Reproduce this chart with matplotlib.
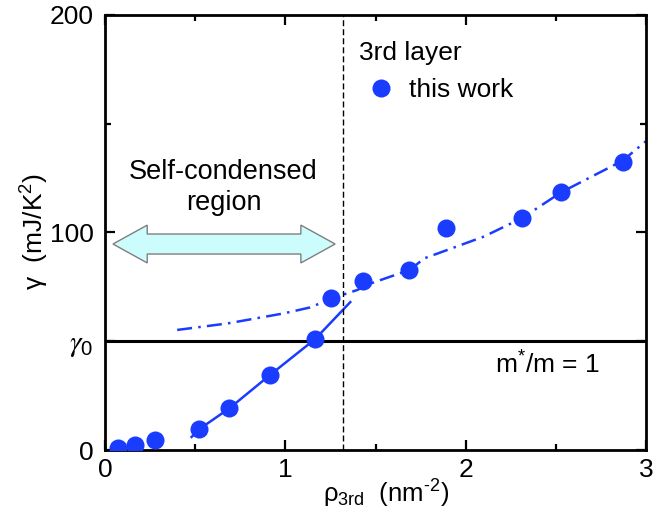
import matplotlib
matplotlib.use("Agg")
import matplotlib.pyplot as plt
from matplotlib.patches import Polygon

plt.rcParams['font.family'] = ['Liberation Sans', 'DejaVu Sans']
plt.rcParams['mathtext.fontset'] = 'custom'
plt.rcParams['mathtext.rm'] = 'Liberation Sans'
plt.rcParams['mathtext.it'] = 'Liberation Sans:italic'
plt.rcParams['mathtext.default'] = 'regular'

# measured gamma vs 3rd layer density
rho = [0.074, 0.166, 0.277, 0.521, 0.690, 0.915, 1.165, 1.253, 1.429, 1.688, 1.891, 2.311, 2.529, 2.871]
gamma = [1.1, 2.3, 4.6, 9.5, 19.2, 34.5, 51.0, 69.8, 77.9, 82.8, 102.2, 106.5, 118.8, 132.6]

# guide curves
solid_x = [0.48, 0.521, 0.690, 0.915, 1.165, 1.36]
solid_y = [6.0, 9.5, 19.2, 34.5, 51.0, 68.0]
dashdot_x = [0.40, 0.68, 0.99, 1.14, 1.25, 1.40, 1.45, 1.69, 1.77, 2.10, 2.31, 2.53, 2.87, 3.00]
dashdot_y = [55.2, 58.2, 62.8, 65.6, 69.5, 73.6, 75.9, 82.8, 88.1, 98.1, 106.5, 118.5, 133.0, 142.0]

gamma0 = 50
rho_c = 1.32
yticks = [0, gamma0, 100, 200]
yticklabels = ['0', r'$\mathit{\gamma}_{0}$', '100', '200']
xticks = [0, 1, 2, 3]

blue = '#1a3cff'

fig = plt.figure(figsize=(6.54, 5.22), dpi=100)
ax = fig.add_axes([0.1606, 0.1379, 0.8272, 0.8334])

ax.plot(solid_x, solid_y, '-', color=blue, lw=1.8)
ax.plot(dashdot_x, dashdot_y, color=blue, lw=1.8, linestyle=(0, (6, 2.5, 1, 2.5)))
ax.plot(rho, gamma, 'o', color=blue, ms=13, mec='none', label='this work', zorder=5)

ax.axhline(gamma0, color='black', lw=2.2, zorder=3)
ax.axvline(rho_c, color='black', lw=1.0, linestyle=(0, (4.3, 2.2)), zorder=3)

# double arrow marking the self-condensed region
xa0, xa1, yc = 0.044, 1.276, 94.7
hl, bw, hw = 0.19, 4.6, 8.7
arrow = Polygon([(xa0, yc), (xa0 + hl, yc + hw), (xa0 + hl, yc + bw), (xa1 - hl, yc + bw),
                 (xa1 - hl, yc + hw), (xa1, yc), (xa1 - hl, yc - hw), (xa1 - hl, yc - bw),
                 (xa0 + hl, yc - bw), (xa0 + hl, yc - hw)],
                closed=True, facecolor='#ccfcfc', edgecolor='#7f7f7f', lw=1.0, zorder=4)
ax.add_patch(arrow)
ax.text(0.657, 120.5, 'Self-condensed\nregion', ha='center', va='center', fontsize=19.5, linespacing=1.25)

ax.text(0.915, 0.175, r'm$^{*}$/m = 1', transform=ax.transAxes, ha='right', va='baseline', fontsize=19)

ax.set_xlim(0, 3)
ax.set_ylim(0, 200)
ax.set_xticks(xticks)
ax.set_xticks([0.5, 1.5, 2.5], minor=True)
ax.set_yticks(yticks)
ax.set_yticklabels(yticklabels)
ax.set_yticks([150], minor=True)
ax.tick_params(which='both', direction='in', top=True, right=True, width=1.6, labelsize=19)
ax.tick_params(which='major', length=7)
ax.tick_params(which='minor', length=4.5)
ax.tick_params(axis='y', pad=8)
ax.tick_params(axis='x', pad=6)
for s in ax.spines.values():
    s.set_linewidth(2.0)
# gamma_0 label drawn with a serif italic gamma
g0 = ax.get_yticklabels()[1]
g0.set_math_fontfamily('stix')
g0.set_fontsize(21)

ax.set_xlabel(r'$\rho_{3rd}$  (nm$^{\text{-}2}$)', fontsize=18.5)
ax.xaxis.set_label_coords(0.52, -0.064)
ax.set_ylabel(r'$\gamma$  (mJ/K$^2$)', fontsize=19)
ax.yaxis.set_label_coords(-0.10, 0.503)

leg = ax.legend(title='3rd layer', loc='upper left', bbox_to_anchor=(0.4695, 0.94), frameon=False,
                alignment='left', borderpad=0, handlelength=1.7, handletextpad=0.2,
                fontsize=19, title_fontsize=19, borderaxespad=0)

fig.savefig('out.png', dpi=100)
